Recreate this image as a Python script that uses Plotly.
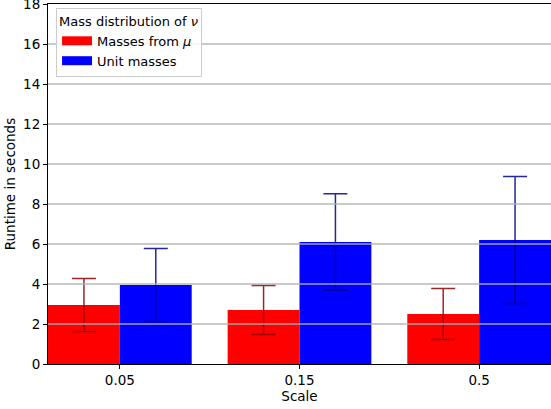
import plotly.graph_objects as go

categories = ["0.05", "0.15", "0.5"]
masses_mu = [2.95, 2.7, 2.5]
masses_mu_err = [1.32, 1.22, 1.28]
unit_masses = [3.95, 6.1, 6.2]
unit_masses_err = [1.82, 2.41, 3.18]
y_ticks = [0, 2, 4, 6, 8, 10, 12, 14, 16, 18]
series_names = ["Masses from <i>μ</i>", "Unit masses"]
series_colors = ["#ff0000", "#0000ff"]

font = "DejaVu Sans"
fs = 13.5

fig = go.Figure()
fig.add_trace(go.Bar(
    x=categories, y=masses_mu, name=series_names[0], showlegend=False,
    marker=dict(color=series_colors[0], line=dict(width=0)),
    error_y=dict(type="data", array=masses_mu_err, color="rgba(139,0,0,0.85)",
                 thickness=1.5, width=12),
))
fig.add_trace(go.Bar(
    x=categories, y=unit_masses, name=series_names[1], showlegend=False,
    marker=dict(color=series_colors[1], line=dict(width=0)),
    error_y=dict(type="data", array=unit_masses_err, color="rgba(0,0,139,0.85)",
                 thickness=1.5, width=12),
))
# legend patches
for nm, col in zip(series_names, series_colors):
    fig.add_trace(go.Scatter(x=[None], y=[None], mode="lines", name=nm,
                             line=dict(color=col, width=9), hoverinfo="skip"))

for v in y_ticks[1:-1]:
    fig.add_shape(type="line", xref="paper", x0=0, x1=1, yref="y", y0=v, y1=v,
                  line=dict(color="rgba(176,176,176,0.9)", width=1.3), layer="above")

fig.update_layout(
    width=551, height=409,
    margin=dict(l=48, r=0, t=4, b=45),
    paper_bgcolor="white", plot_bgcolor="white",
    barmode="group", bargap=0.2, bargroupgap=0,
    font=dict(family=font, size=fs, color="black"),
    showlegend=True,
    legend=dict(
        title=dict(text="Mass distribution of <i>ν</i>", font=dict(size=13)),
        x=0.016, y=0.989, xanchor="left", yanchor="top",
        bgcolor="rgba(255,255,255,0.85)", bordercolor="#cccccc", borderwidth=1,
        font=dict(size=13), itemwidth=30, tracegroupgap=0,
    ),
    xaxis=dict(
        type="category", range=[-0.4, 2.4],
        showline=True, linecolor="black", linewidth=1, mirror=True,
        ticks="outside", ticklen=4, tickcolor="black",
        showgrid=False, zeroline=False,
        title=dict(text="Scale", standoff=2, font=dict(size=fs)),
    ),
    yaxis=dict(
        range=[0, 18], tickvals=y_ticks, automargin=False,
        ticklabeloverflow="allow",
        showline=True, linecolor="black", linewidth=1, mirror=True,
        ticks="outside", ticklen=4, tickcolor="black",
        showgrid=False, zeroline=False,
        title=dict(text="Runtime in seconds", standoff=4, font=dict(size=fs)),
    ),
)

fig.write_html("out.html")
